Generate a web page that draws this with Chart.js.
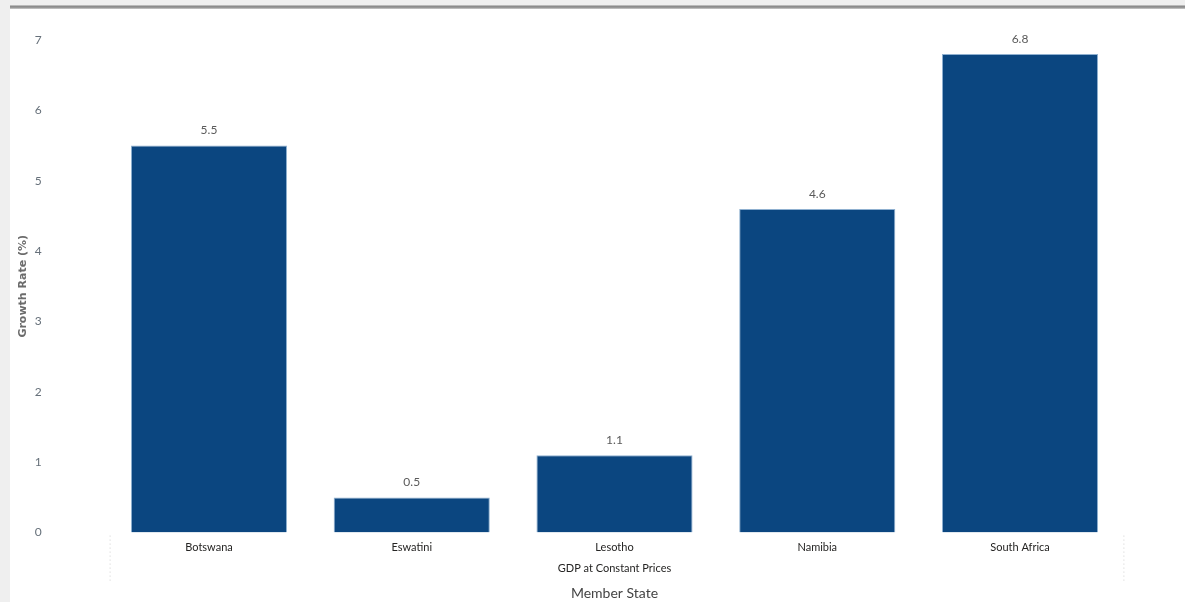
<!DOCTYPE html>
<html>
<head>
<meta charset="utf-8">
<script src="https://cdn.jsdelivr.net/npm/chart.js@4.4.0/dist/chart.umd.min.js"></script>
<style>
  html, body { margin: 0; padding: 0; width: 1185px; height: 602px; overflow: hidden; background: #efefef; }
  #topline { position: absolute; left: 10px; top: 5px; width: 1175px; height: 4px; background: linear-gradient(#d6d6d6, #8a8a8a, #9a9a9a, #d0d0d0); }
  #wrap { position: absolute; left: 10px; top: 9px; width: 1175px; height: 593px; background: #fff; }
</style>
</head>
<body>
<div id="topline"></div>
<div id="wrap"><canvas id="myChart" width="1175" height="593"></canvas></div>
<script>
// GDP growth by member state
const memberStates = ["Botswana", "Eswatini", "Lesotho", "Namibia", "South Africa"];
const growth = [5.5, 0.5, 1.1, 4.6, 6.8];
const yTicks = [0, 1, 2, 3, 4, 5, 6, 7];

const barColor = "#0b4680";

// value printed above each bar
const valueLabels = {
  id: "valueLabels",
  afterDatasetsDraw(chart) {
    const ctx = chart.ctx;
    const meta = chart.getDatasetMeta(0);
    ctx.save();
    ctx.font = "12px Lato";
    ctx.fillStyle = "#5a5a5a";
    ctx.textAlign = "center";
    ctx.textBaseline = "bottom";
    meta.data.forEach((bar, i) => {
      ctx.fillText(growth[i].toFixed(1), bar.x, bar.y - 9);
    });
    ctx.restore();
  },
};

// small dotted markers at both ends of the category axis
const edgeLines = {
  id: "edgeLines",
  afterDraw(chart) {
    const { ctx, chartArea } = chart;
    ctx.save();
    ctx.strokeStyle = "#cfcfcf";
    ctx.lineWidth = 1;
    ctx.setLineDash([1, 3]);
    [chartArea.left + 2.5, chartArea.right + 2.5].forEach((x) => {
      ctx.beginPath();
      ctx.moveTo(x, chartArea.bottom + 3);
      ctx.lineTo(x, chartArea.bottom + 48);
      ctx.stroke();
    });
    ctx.restore();
  },
};

const config = {
  type: "bar",
  data: {
    labels: memberStates,
    datasets: [
      {
        label: "GDP at Constant Prices",
        data: growth,
        backgroundColor: barColor,
        borderColor: "#8fb0d0",
        borderWidth: 1,
        categoryPercentage: 0.77,
        barPercentage: 1,
      },
    ],
  },
  options: {
    responsive: false,
    animation: false,
    layout: {
      padding: { left: 3, right: 63.6, top: 31, bottom: 0 },
    },
    scales: {
      x: {
        grid: { display: false, drawTicks: false },
        border: { display: false },
        ticks: {
          color: "#252423",
          font: { family: "Lato", size: 11 },
          padding: 8,
        },
        title: {
          display: true,
          text: "GDP at Constant Prices",
          color: "#252423",
          font: { family: "Lato", size: 11 },
          padding: { top: 0, bottom: 0 },
        },
        afterFit: (scale) => {
          scale.height = 42;
        },
      },
      y: {
        min: 0,
        max: 7,
        afterBuildTicks: (scale) => {
          scale.ticks = yTicks.map((v) => ({ value: v }));
        },
        grid: { display: false, drawTicks: false },
        border: { display: false },
        ticks: {
          color: "#66707a",
          font: { family: "Lato", size: 12 },
          padding: 66,
        },
        title: {
          display: true,
          text: "Growth Rate (%)",
          color: "#6b6b6b",
          font: { family: "DejaVu Sans", size: 11, weight: "bold" },
          padding: { top: 4, bottom: 4 },
        },
        afterFit: (scale) => {
          scale.width = 94.6;
          scale.paddingTop = 0;
          scale.paddingBottom = 0;
        },
      },
    },
    plugins: {
      legend: { display: false },
      tooltip: { enabled: false },
      title: {
        display: true,
        position: "bottom",
        fullSize: false,
        text: "Member State",
        color: "#444444",
        font: { family: "Lato", size: 14, weight: "normal" },
        padding: { top: 10.6, bottom: 0 },
      },
    },
  },
  plugins: [valueLabels, edgeLines],
};

const myChart = new Chart(document.getElementById("myChart"), config);
</script>
</body>
</html>
